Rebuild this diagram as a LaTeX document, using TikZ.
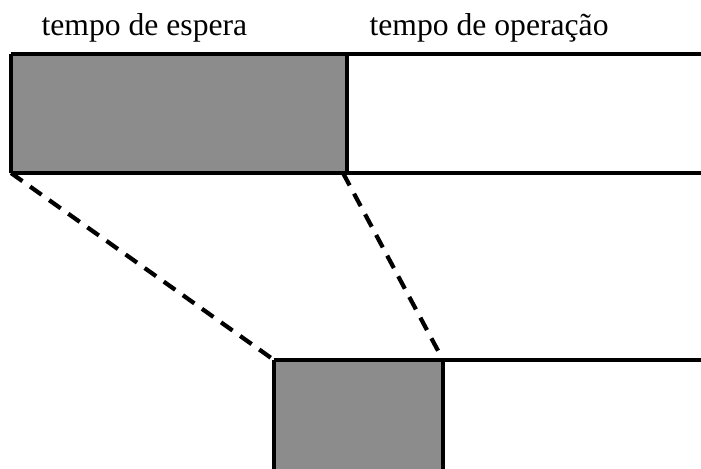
\documentclass[tikz,border=0pt]{standalone}
\usepackage{fontspec}
\setmainfont{Liberation Serif}
\usetikzlibrary{calc}

\begin{document}
\begin{tikzpicture}[x=0.03cm, y=-0.03cm, line width=2.8pt,
    caption/.style={anchor=base west, inner sep=0pt, font=\fontsize{27}{32}\selectfont},
    shade box/.style={fill=black!45},
    link/.style={dashed, line width=3.6pt, dash pattern=on 12pt off 8pt}]

% white background and frame
\fill[white] (0,0) rectangle (701,468);
\useasboundingbox (0,0) rectangle (701,468);
\clip (0,0) rectangle (701,468);

% corners of the two waiting blocks
\coordinate (wtop) at (11,54);
\coordinate (wbot) at (347,173);
\coordinate (ztop) at (274,360);
\coordinate (zbot) at (443,490);

% upper time line
\fill[shade box] (wtop) rectangle (wbot);
\draw (wtop) -- (wtop -| 701,0);
\draw (wtop |- wbot) -- (wbot -| 701,0);
\draw (wtop) -- (wtop |- wbot);
\draw (wbot |- wtop) -- (wbot);

% lower time line
\fill[shade box] (ztop) rectangle (zbot);
\draw (ztop) -- (ztop -| 701,0);
\draw (ztop) -- (ztop |- zbot);
\draw (zbot |- ztop) -- (zbot);

% zoom lines
\draw[link] (wtop |- wbot) -- (ztop);
\draw[link] ($(wbot)+(-4,0)$) -- (zbot |- ztop);

\node[caption] (espera) at (40,35) {tempo de espera};
\node[caption] (operacao) at (368,35) {tempo de operação};

\end{tikzpicture}
\end{document}
